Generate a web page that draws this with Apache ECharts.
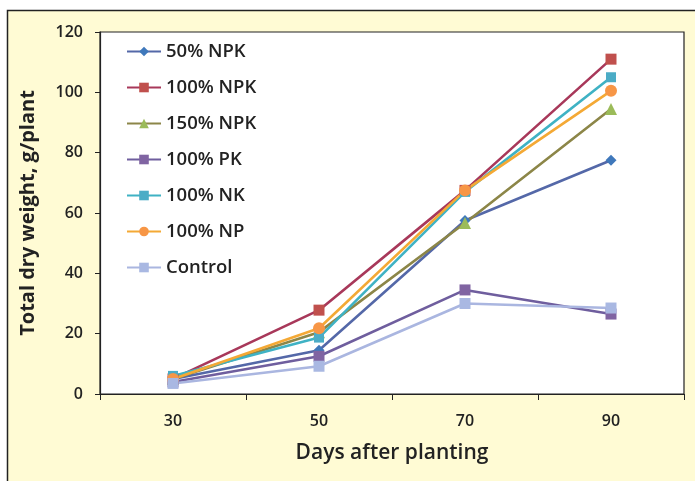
<!DOCTYPE html>
<html>
<head>
<meta charset="utf-8">
<script src="https://cdn.jsdelivr.net/npm/echarts@6/dist/echarts.min.js"></script>
<style>
html,body{margin:0;padding:0;background:#fff;}
#c{width:695px;height:481px;}
</style>
</head>
<body>
<div id="c"></div>
<script>
var categories = ['30', '50', '70', '90'];
var seriesNames = ['50% NPK', '100% NPK', '150% NPK', '100% PK', '100% NK', '100% NP', 'Control'];
var npk50 = [5, 14.5, 57.5, 77.5];
var npk100 = [5, 27.8, 67.5, 111];
var npk150 = [5, 20.5, 56.7, 94.5];
var pk100 = [4, 12.5, 34.5, 26.5];
var nk100 = [6, 18.7, 67, 105];
var np100 = [5, 21.8, 67.5, 100.5];
var control = [3.5, 9.2, 30, 28.5];
var yTicks = [0, 20, 40, 60, 80, 100, 120];

var font = '"Open Sans", sans-serif';
var styles = [
  {data: npk50, line: '#5468a8', fill: '#3f78bb', symbol: 'diamond', size: 11},
  {data: npk100, line: '#a8385a', fill: '#c0504d', symbol: 'rect', size: 11},
  {data: npk150, line: '#8c8648', fill: '#9bbb59', symbol: 'triangle', size: 12},
  {data: pk100, line: '#6f5e9e', fill: '#8064a2', symbol: 'rect', size: 11},
  {data: nk100, line: '#3fb2c4', fill: '#4bacc6', symbol: 'rect', size: 10},
  {data: np100, line: '#f4a935', fill: '#f79646', symbol: 'circle', size: 12},
  {data: control, line: '#aab6e0', fill: '#a9b8e2', symbol: 'rect', size: 11}
];

var chart = echarts.init(document.getElementById('c'), null, {renderer: 'canvas'});
chart.setOption({
  animation: false,
  backgroundColor: '#ffffff',
  graphic: [{
    type: 'rect', z: -10, silent: true,
    shape: {x: 7.5, y: 10.5, width: 700, height: 480},
    style: {fill: '#fffbd4', stroke: '#222', lineWidth: 1.5}
  }],
  grid: {left: 100, top: 32, right: 11, bottom: 87, show: true, backgroundColor: '#ffffff', borderColor: '#222', borderWidth: 1.2},
  legend: {
    orient: 'vertical', left: 121, top: 34,
    itemWidth: 34, itemHeight: 12, itemGap: 11,
    textStyle: {fontFamily: font, fontWeight: 600, fontSize: 18.5, color: '#222', lineHeight: 25},
    data: seriesNames
  },
  xAxis: {
    type: 'category', data: categories, boundaryGap: true,
    name: 'Days after planting', nameLocation: 'middle', nameGap: 49,
    nameTextStyle: {fontFamily: font, fontWeight: 600, fontSize: 21, color: '#222'},
    axisLine: {lineStyle: {color: '#222', width: 1.2}},
    axisTick: {show: true, length: 6, lineStyle: {color: '#222'}},
    axisLabel: {fontFamily: font, fontWeight: 600, fontSize: 16, color: '#222', margin: 19}
  },
  yAxis: {
    type: 'value', min: yTicks[0], max: yTicks[yTicks.length - 1], interval: 20,
    name: 'Total dry weight, g/plant', nameLocation: 'middle', nameGap: 62, nameRotate: 90,
    nameTextStyle: {fontFamily: font, fontWeight: 700, fontSize: 20, color: '#222'},
    axisLine: {show: true, lineStyle: {color: '#222', width: 1.2}},
    axisTick: {show: true, length: 5, lineStyle: {color: '#222'}},
    splitLine: {show: false},
    axisLabel: {fontFamily: font, fontWeight: 600, fontSize: 16, color: '#222', margin: 17}
  },
  series: styles.map(function (s, i) {
    return {
      name: seriesNames[i], type: 'line', data: s.data,
      symbol: s.symbol, symbolSize: s.size, showAllSymbol: true,
      lineStyle: {color: s.line, width: 2.6},
      itemStyle: {color: s.fill, borderColor: s.fill, borderWidth: 0}
    };
  })
});
</script>
</body>
</html>
